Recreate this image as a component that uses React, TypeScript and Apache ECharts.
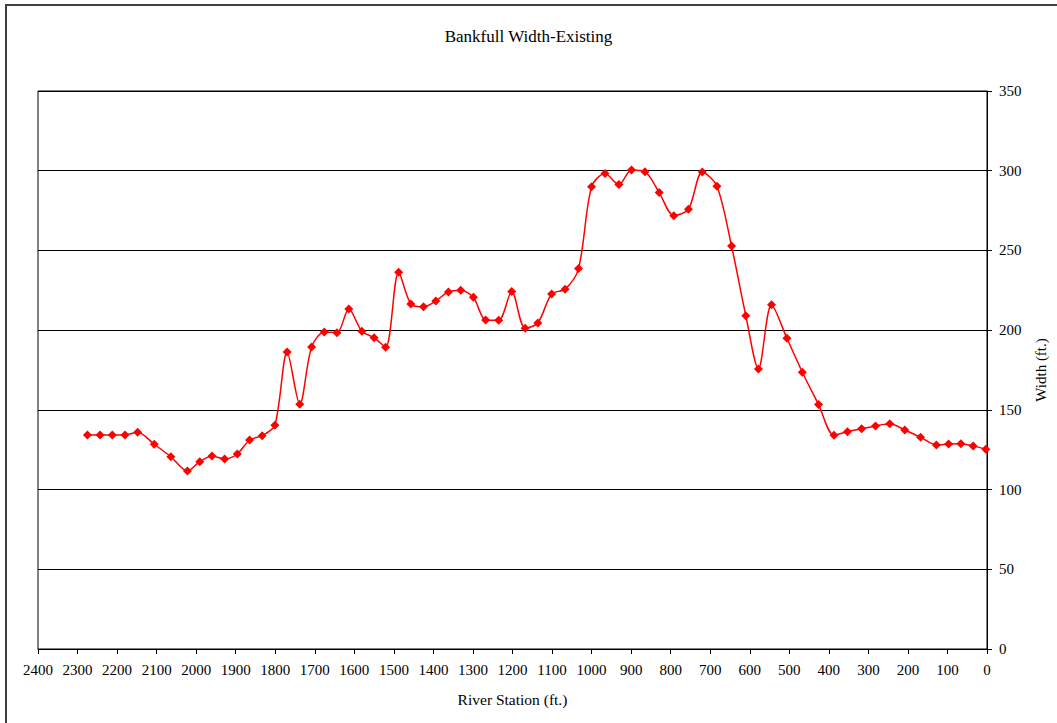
import React, { useEffect, useRef } from "react";
import * as echarts from "echarts";

const titleText = "Bankfull Width-Existing";
const xAxisName = "River Station (ft.)";
const yAxisName = "Width (ft.)";

const stations = [
  2275, 2243, 2212, 2180, 2148, 2106, 2064, 2022, 1991, 1960, 1928, 1896, 1865, 1833, 1801, 1770, 1738,
  1708, 1676, 1644, 1614, 1581, 1550, 1521, 1488, 1457, 1425, 1394, 1362, 1331, 1299, 1268, 1235, 1202,
  1168, 1136, 1101, 1067, 1033, 1000, 966, 931, 899, 865, 829, 792, 755, 720, 683, 646, 610, 578, 545,
  506, 467, 426, 387, 353, 317, 282, 246, 208, 168, 128, 97, 66, 35, 3,
];
const widths = [
  134.3, 134.3, 134.3, 134.3, 135.9, 128.4, 120.6, 111.7, 117.5, 121.1, 119.2, 122.3, 131.1, 133.8, 140.3,
  186.3, 153.5, 189.5, 198.9, 198.4, 213.3, 199.3, 195.3, 189.3, 236.3, 216.4, 214.6, 218.3, 224.0, 225.0,
  220.6, 206.4, 206.2, 224.2, 201.2, 204.5, 222.7, 225.7, 238.6, 290.0, 298.2, 291.3, 300.5, 299.4, 286.3,
  271.8, 275.9, 299.2, 290.3, 252.7, 209.1, 175.7, 215.9, 194.9, 173.6, 153.3, 134.1, 136.3, 138.1, 139.9,
  141.3, 137.4, 132.8, 128.0, 128.6, 128.8, 127.4, 125.3,
];

const font = "'Liberation Serif', 'Times New Roman', serif";

export default function App() {
  const ref = useRef<HTMLDivElement>(null);
  useEffect(() => {
    if (!ref.current) return;
    const chart = echarts.init(ref.current, null, { renderer: "svg" });
    const data = stations.map((s, i) => [s, widths[i]]);
    chart.setOption({
      animation: false,
      backgroundColor: "#fff",
      textStyle: { fontFamily: font },
      title: {
        text: titleText,
        left: "center",
        top: 23,
        textStyle: { fontFamily: font, fontSize: 17, fontWeight: "normal", color: "#000" },
      },
      graphic: [
        {
          type: "rect",
          shape: { x: 6, y: 5, width: 1200, height: 900 },
          style: { fill: "none", stroke: "#404040", lineWidth: 2 },
          silent: true,
        },
      ],
      grid: {
        left: 38,
        right: 70,
        top: 91,
        bottom: 74,
        show: true,
        borderColor: "#000",
        borderWidth: 1,
        backgroundColor: "#fff",
      },
      xAxis: {
        type: "value",
        min: 0,
        max: 2400,
        interval: 100,
        inverse: true,
        name: xAxisName,
        nameLocation: "middle",
        nameGap: 42,
        nameTextStyle: { fontFamily: font, fontSize: 15.5, color: "#000" },
        axisLine: { show: true, lineStyle: { color: "#000", width: 1 } },
        axisTick: { show: true, inside: false, length: 5, lineStyle: { color: "#000" } },
        axisLabel: {
          margin: 13,
          fontFamily: font,
          fontSize: 15,
          color: "#000",
          formatter: (v: number) => String(v),
        },
        splitLine: { show: false },
      },
      yAxis: {
        type: "value",
        position: "right",
        min: 0,
        max: 350,
        interval: 50,
        name: yAxisName,
        nameLocation: "middle",
        nameRotate: 90,
        nameGap: 46,
        nameTextStyle: { fontFamily: font, fontSize: 15, color: "#000" },
        axisLine: { show: true, lineStyle: { color: "#000", width: 1 } },
        axisTick: { show: true, inside: false, length: 5, lineStyle: { color: "#000" } },
        axisLabel: {
          margin: 12,
          fontFamily: font,
          fontSize: 15,
          color: "#000",
          formatter: (v: number) => String(v),
        },
        splitLine: { show: true, lineStyle: { color: "#000", width: 1 } },
      },
      series: [
        {
          type: "line",
          data,
          smooth: 0.3,
          symbol: "diamond",
          symbolSize: 9,
          itemStyle: { color: "#ff0000" },
          lineStyle: { color: "#ff0000", width: 1.5 },
        },
      ],
    });
    return () => chart.dispose();
  }, []);
  return (
    <div
      ref={ref}
      style={{ position: "absolute", left: 0, top: 0, width: 1057, height: 723 }}
    />
  );
}
